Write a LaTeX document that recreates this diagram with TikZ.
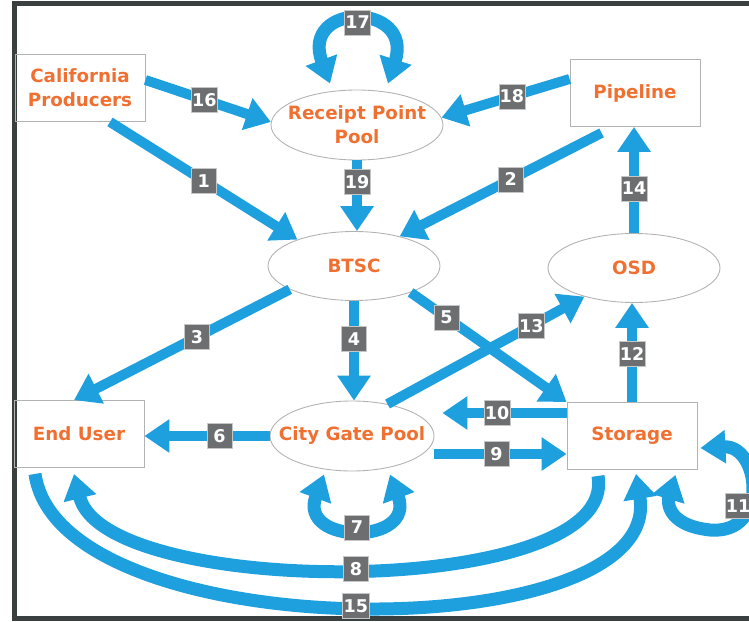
\documentclass[tikz,border=0pt]{standalone}
\usepackage{fontspec}
\setmainfont{DejaVu Sans}
\usetikzlibrary{arrows.meta, shapes.geometric, calc}
\definecolor{flowblue}{RGB}{30,160,222}
\definecolor{labelorange}{RGB}{240,112,50}
\definecolor{badgegray}{RGB}{108,110,112}
\definecolor{framegray}{RGB}{58,64,64}

\begin{document}
\begin{tikzpicture}[x=0.02cm, y=-0.02cm,
        box/.style={rectangle, draw=gray!60, line width=0.5pt, minimum width=2.6cm, minimum height=1.34cm, text=labelorange, align=center, font=\bfseries\fontsize{10.4}{13.6}\selectfont},
        pool/.style={ellipse, draw=gray!60, line width=0.5pt, minimum width=3.44cm, minimum height=1.38cm, inner sep=0pt, text=labelorange, align=center, font=\bfseries\fontsize{10.4}{13.6}\selectfont},
        flow/.style={draw=flowblue, line width=0.2cm, -{Triangle[length=0.5cm, width=0.64cm]}},
        bigflow/.style={flow, line width=0.26cm},
        loopflow/.style={bigflow, {Triangle[length=0.5cm, width=0.64cm]}-{Triangle[length=0.5cm, width=0.64cm]}},
        badge/.style={rectangle, fill=badgegray, draw=gray!45, line width=0.4pt, minimum size=0.5cm, inner sep=0.5pt, text=white, font=\bfseries\fontsize{10}{10}\selectfont}]
            \useasboundingbox (0,0) rectangle (749,621);
            \draw[framegray, line width=0.1cm] (749,3.5) -- (14.5,3.5) -- (14.5,618) -- (749,618);

            \node[box] at (80, 88)    (cp) {California\\Producers};
            \node[box] at (635, 93)   (pipe) {Pipeline};
            \node[box] at (79, 434)   (eu) {End User};
            \node[box] at (632, 436)  (stor) {Storage};
            \node[pool, inner xsep=-5pt, minimum height=1.4cm] at (357, 125) (rpp) {Receipt Point\\Pool};
            \node[pool] at (354, 266) (btsc) {BTSC};
            \node[pool] at (634, 268) (osd) {OSD};
            \node[pool, inner xsep=-9pt, minimum width=3.28cm, minimum height=1.4cm] at (352, 436) (cgp) {City Gate Pool};

            % supply side
            \draw[flow] ($(cp.south)+(30,0)$) -- (btsc.155) node[badge, pos=.5] (n1) {1};
            \draw[flow] ($(pipe.south west)+(32,6)$) -- (btsc.33) node[badge, pos=.45] (n2) {2};
            \draw[flow] ($(cp.east)+(0,-8)$) -- (rpp.178) node[badge, pos=.47] (n16) {16};
            \draw[flow] ($(pipe.west)+(0,-14)$) -- (rpp.5) node[badge, pos=.45] (n18) {18};
            \draw[flow] (rpp.south) -- (rpp.south |- btsc.north) node[badge, pos=.3] (n19) {19};
            \draw[loopflow] ($(rpp.north)+(-27,-6)$) .. controls (300,2) and (414,2) .. ($(rpp.north)+(31,-6)$) node[badge, pos=.5] (n17) {17};

            % out of BTSC
            \draw[flow] (btsc.200) -- ($(eu.north)+(-5,0)$) node[badge, pos=.43] (n3) {3};
            \draw[flow] (btsc.south) -- (btsc.south |- cgp.north) node[badge, pos=.38] (n4) {4};
            \draw[flow] (btsc.-25) -- (stor.north west) node[badge, pos=.23] (n5) {5};

            % city gate and storage
            \draw[flow] (cgp.42) -- (osd.210) node[badge, pos=.73] (n13) {13};
            \draw[flow] (stor.north) -- (stor.north |- osd.south) node[badge, pos=.49] (n12) {12};
            \draw[flow] (osd.north) -- (osd.north |- pipe.south) node[badge, pos=.42] (n14) {14};
            \draw[flow] ($(stor.west)+(0,-23)$) -- ($(cgp.east)+(8,-23)$) node[badge, pos=.56] (n10) {10};
            \draw[flow] ($(cgp.east)+(0,18)$) -- ($(stor.west)+(0,18)$) node[badge, pos=.47] (n9) {9};
            \draw[flow] (cgp.west) -- (cgp.west -| eu.east) node[badge, pos=.4] (n6) {6};
            \draw[loopflow] ($(cgp.south)+(-28,3)$) .. controls (298,545) and (416,545) .. ($(cgp.south)+(38,3)$) node[badge, pos=.5] (n7) {7};
            \draw[loopflow] ($(stor.east)+(3,12)$) .. controls (760,445) and (770,535) .. (710,530) .. controls (665,525) and (668,500) .. ($(stor.south east)+(-22,5)$);
            \node[badge] at (738, 506) (n11) {11};

            % long returns
            \draw[bigflow] ($(stor.south)+(-34,6)$) .. controls (620,600) and (105,600) .. ($(eu.south)+(-5,6)$) node[badge, pos=.5] (n8) {8};
            \draw[bigflow] ($(eu.south)+(-44,6)$) .. controls (60,650) and (665,650) .. ($(stor.south)+(4,4)$) node[badge, pos=.5] (n15) {15};
        \end{tikzpicture}
\end{document}
